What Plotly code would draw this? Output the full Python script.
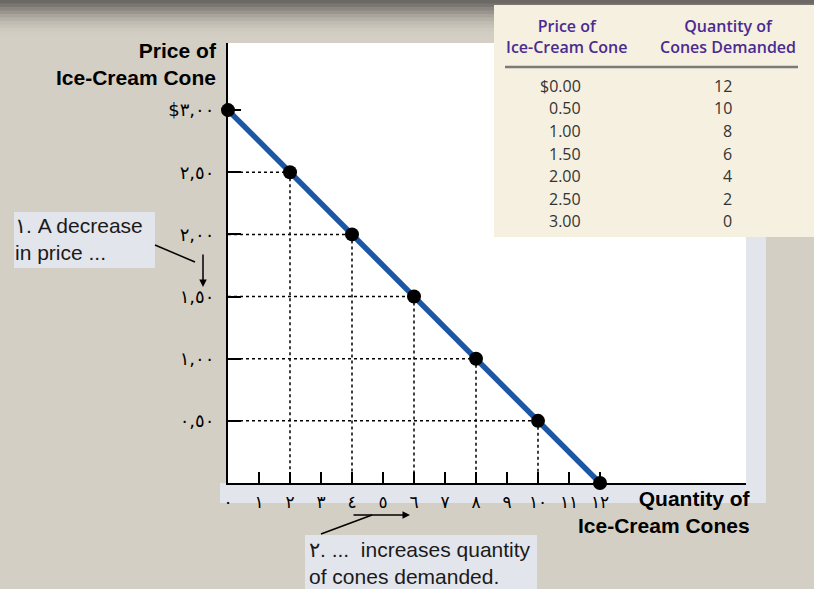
import plotly.graph_objects as go

# demand schedule
quantity = [0, 2, 4, 6, 8, 10, 12]
price = [3.00, 2.50, 2.00, 1.50, 1.00, 0.50, 0.00]

x_ticks = list(range(13))
x_tick_text = ['٠', '١', '٢', '٣', '٤', '٥', '٦', '٧', '٨', '٩', '١٠', '١١', '١٢']
y_ticks = [0.5, 1.0, 1.5, 2.0, 2.5, 3.0]
y_tick_text = ['٠,٥٠', '١,٠٠', '١,٥٠', '٢,٠٠', '٢,٥٠', '$٣,٠٠']

table_price = ['$0.00', '0.50', '1.00', '1.50', '2.00', '2.50', '3.00']
table_qty = ['12', '10', '8', '6', '4', '2', '0']

W, H = 814, 589
L, T, PW, PH = 228, 43, 518, 440
BEIGE = '#d4cfc4'
PANEL = '#e3e5ec'


def px(x):
    return (x - L) / PW


def py(y):
    return (T + PH - y) / PH


fig = go.Figure()

# dotted guides from each point to the axes
gx, gy = [], []
for q, p in zip(quantity, price):
    if q > 0 and p > 0:
        gx += [q, q, None, 0, q, None]
        gy += [p, 0, None, p, p, None]
fig.add_trace(go.Scatter(x=gx, y=gy, mode='lines', line=dict(color='black', width=1.5, dash='dot'),
                         hoverinfo='skip', showlegend=False))

fig.add_trace(go.Scatter(x=quantity, y=price, mode='lines+markers',
                         line=dict(color='#1c57a5', width=5.5),
                         marker=dict(color='black', size=14),
                         cliponaxis=False, showlegend=False))

shapes = []
# top gradient
top_cols = ['#6c6965', '#7a7772', '#8a8680', '#99958e', '#a8a49c', '#b5b1a8', '#c0bbb1', '#c8c3b9', '#cec9be', '#d2cdc2']
for i, c in enumerate(top_cols):
    shapes.append(dict(type='rect', xref='paper', yref='paper', x0=px(0), x1=px(W), y0=py(i * 3.5 + 5), y1=py(i * 3.5),
                       fillcolor=c, line=dict(width=0), layer='below'))
# white plot surround panels
shapes.append(dict(type='rect', xref='paper', yref='paper', x0=px(220), x1=px(766), y0=py(503), y1=py(483),
                   fillcolor=PANEL, line=dict(width=0), layer='below'))
shapes.append(dict(type='rect', xref='paper', yref='paper', x0=px(746), x1=px(766), y0=py(503), y1=py(43),
                   fillcolor=PANEL, line=dict(width=0), layer='below'))
# table panel
shapes.append(dict(type='rect', xref='paper', yref='paper', x0=px(494), x1=px(814), y0=py(237), y1=py(5),
                   fillcolor='#f6f0e1', line=dict(width=0), layer='above'))
shapes.append(dict(type='line', xref='paper', yref='paper', x0=px(505), x1=px(798), y0=py(67), y1=py(67),
                   line=dict(color='#7a7a7a', width=2.5), layer='above'))
# callout boxes
shapes.append(dict(type='rect', xref='paper', yref='paper', x0=px(14), x1=px(155), y0=py(268), y1=py(212),
                   fillcolor=PANEL, line=dict(width=0), layer='above'))
shapes.append(dict(type='rect', xref='paper', yref='paper', x0=px(305), x1=px(537), y0=py(589), y1=py(535),
                   fillcolor=PANEL, line=dict(width=0), layer='above'))
shapes.append(dict(type='line', xref='paper', yref='paper', x0=px(155), x1=px(195), y0=py(245), y1=py(262),
                   line=dict(color='black', width=1.5)))
shapes.append(dict(type='line', xref='paper', yref='paper', x0=px(321), x1=px(372), y0=py(534), y1=py(515),
                   line=dict(color='black', width=1.5)))

big = dict(family='Liberation Sans', size=21, color='black')
txt = dict(family='Liberation Sans', size=21, color='#1a1a1a')
ann = []
ann.append(dict(xref='paper', yref='paper', x=px(219), y=py(37), xanchor='right', yanchor='top', align='right',
                text='<b>Price of<br>Ice-Cream Cone</b>', showarrow=False, font=big))
ann.append(dict(xref='paper', yref='paper', x=px(753), y=py(485), xanchor='right', yanchor='top', align='right',
                text='<b>Quantity of<br>Ice-Cream Cones</b>', showarrow=False, font=big))
ann.append(dict(xref='paper', yref='paper', x=px(13), y=py(212), xanchor='left', yanchor='top', align='left',
                text='١. A decrease<br>in price ...', showarrow=False, font=txt))
ann.append(dict(xref='paper', yref='paper', x=px(307), y=py(536), xanchor='left', yanchor='top', align='left',
                text='٢. ...  increases quantity<br>of cones demanded.', showarrow=False, font=txt))
# arrows
ann.append(dict(xref='paper', yref='paper', x=px(203), y=py(287), ax=0, ay=-34, text='', showarrow=True,
                arrowhead=2, arrowsize=1, arrowwidth=1.5, arrowcolor='black'))
ann.append(dict(xref='paper', yref='paper', x=px(410), y=py(515), ax=-58, ay=0, text='', showarrow=True,
                arrowhead=2, arrowsize=1, arrowwidth=1.5, arrowcolor='black'))

# table text
hfont = dict(family='Open Sans', size=16, color='#4b2b91', weight=600)
ann.append(dict(xref='paper', yref='paper', x=px(566), y=py(13), xanchor='center', yanchor='top', align='center',
                text='Price of<br>Ice-Cream Cone', showarrow=False, font=hfont))
ann.append(dict(xref='paper', yref='paper', x=px(728), y=py(13), xanchor='center', yanchor='top', align='center',
                text='Quantity of<br>Cones Demanded', showarrow=False, font=hfont))
for i, (tp, tq) in enumerate(zip(table_price, table_qty)):
    yy = 86 + i * 22.5
    ann.append(dict(xref='paper', yref='paper', x=px(583), y=py(yy), xanchor='right', yanchor='middle',
                    text=tp, showarrow=False, font=dict(family='Open Sans', size=16, color='#333333')))
    ann.append(dict(xref='paper', yref='paper', x=px(734), y=py(yy), xanchor='right', yanchor='middle',
                    text=tq, showarrow=False, font=dict(family='Open Sans', size=16, color='#333333')))

fig.update_layout(
    width=W, height=H,
    margin=dict(l=L, r=W - L - PW, t=T, b=H - T - PH, pad=0),
    paper_bgcolor=BEIGE, plot_bgcolor='white',
    shapes=shapes, annotations=ann,
    xaxis=dict(range=[0, PW / 31], tickvals=x_ticks, ticktext=x_tick_text, ticks='inside', ticklen=11,
               tickwidth=2, tickcolor='black', showline=True, linecolor='black', linewidth=2,
               showgrid=False, zeroline=False, tickfont=dict(family='DejaVu Sans', size=17, color='black'),
               ticklabelstandoff=3, layer='below traces'),
    yaxis=dict(range=[0, PH / 124.3], tickvals=y_ticks, ticktext=y_tick_text, ticks='inside', ticklen=13,
               tickwidth=2, tickcolor='black', showline=True, linecolor='black', linewidth=2,
               showgrid=False, zeroline=False, tickfont=dict(family='DejaVu Sans', size=18, color='black'),
               ticklabelstandoff=8, layer='below traces'),
)

fig.write_html('out.html', config={'displayModeBar': False},
               post_script="document.body.style.margin='0';document.body.style.overflow='hidden';")
